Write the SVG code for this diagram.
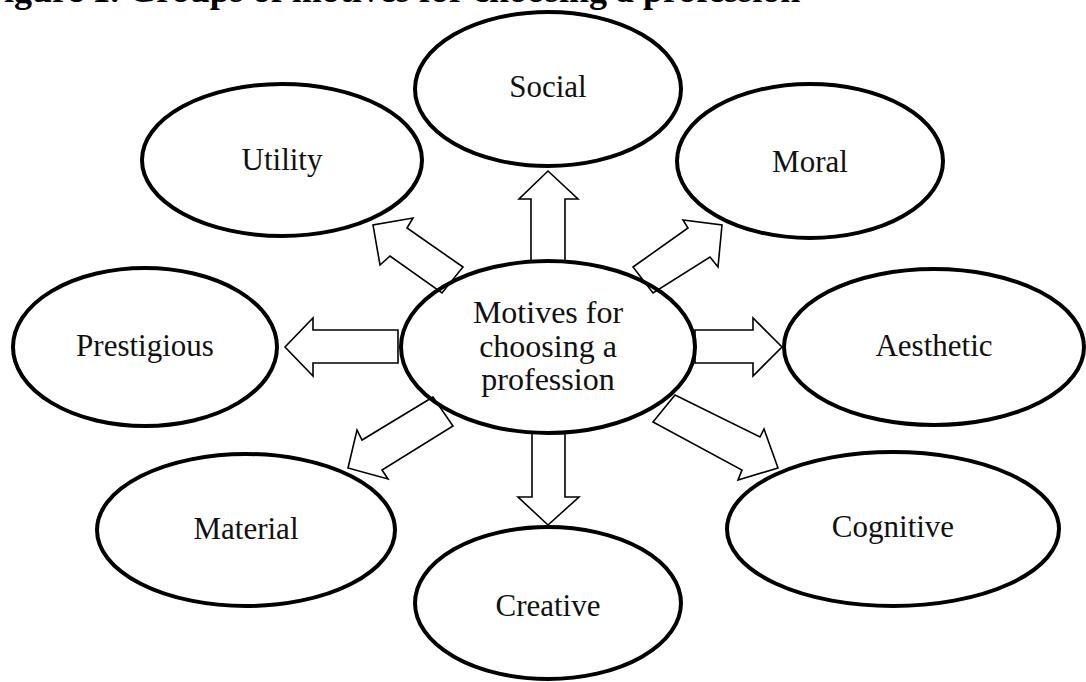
<svg xmlns="http://www.w3.org/2000/svg" width="1086" height="682" viewBox="0 0 1086 682">
  <style>
    .node { fill: #ffffff; stroke: #000000; stroke-width: 4; }
    .lbl { font-family: "Liberation Serif", "Times New Roman", serif; font-size: 31px; fill: #111111; text-anchor: middle; }
    .clbl { font-family: "Liberation Serif", "Times New Roman", serif; font-size: 32px; fill: #111111; text-anchor: middle; }
    .title { font-family: "Liberation Serif", "Times New Roman", serif; font-size: 36px; font-weight: bold; fill: #000000; }
    .arrow { fill: none; stroke: #000000; stroke-width: 1.6; stroke-linejoin: miter; }
  </style>
  <rect x="0" y="0" width="1086" height="682" fill="#ffffff"/>
  <text class="title" x="-18" y="2">Figure 1. Groups of motives for choosing a profession</text>

  <g id="node-social">
    <ellipse class="node" cx="548" cy="89" rx="133" ry="77"/>
    <text class="lbl" x="548" y="97">Social</text>
  </g>
  <g id="node-utility">
    <ellipse class="node" cx="282" cy="160" rx="140" ry="76"/>
    <text class="lbl" x="282" y="170">Utility</text>
  </g>
  <g id="node-moral">
    <ellipse class="node" cx="810" cy="161" rx="133" ry="77"/>
    <text class="lbl" x="810" y="172">Moral</text>
  </g>
  <g id="node-prestigious">
    <ellipse class="node" cx="145" cy="347" rx="132" ry="79"/>
    <text class="lbl" x="145" y="356">Prestigious</text>
  </g>
  <g id="node-aesthetic">
    <ellipse class="node" cx="934" cy="347" rx="150" ry="78"/>
    <text class="lbl" x="934" y="356">Aesthetic</text>
  </g>
  <g id="node-material">
    <ellipse class="node" cx="246" cy="530" rx="149" ry="76"/>
    <text class="lbl" x="246" y="539">Material</text>
  </g>
  <g id="node-cognitive">
    <ellipse class="node" cx="893" cy="529" rx="166" ry="77"/>
    <text class="lbl" x="893" y="537">Cognitive</text>
  </g>
  <g id="node-creative">
    <ellipse class="node" cx="548" cy="603" rx="133" ry="76"/>
    <text class="lbl" x="548" y="616">Creative</text>
  </g>
  <g id="node-center">
    <ellipse class="node" cx="548" cy="347" rx="147" ry="86"/>
    <text class="clbl" x="548" y="323">Motives for</text>
    <text class="clbl" x="548" y="357">choosing a</text>
    <text class="clbl" x="548" y="390">profession</text>
  </g>

  <g id="connectors">
    <polygon class="arrow" points="531,261 531,199 519,199 548,171 578,199 565,199 565,261"/>
    <polygon class="arrow" points="532,433 532,497 518,497 548,525 579,497 565,497 565,433"/>
    <polygon class="arrow" points="398,330 313,330 313,318 285,347 313,376 313,363 398,363"/>
    <polygon class="arrow" points="695,330 753,330 753,318 782,347 753,376 753,363 695,363"/>
    <polygon class="arrow" points="463,267 407,228 413,218 373,225 380,265 390,256 442,293"/>
    <polygon class="arrow" points="633,267 688,228 683,220 722,225 718,267 710,257 653,293"/>
    <polygon class="arrow" points="433,397 362,440 357,430 348,468 388,479 382,470 453,426"/>
    <polygon class="arrow" points="675,395 760,437 764,429 778,468 738,480 742,470 653,422"/>
  </g>
</svg>
